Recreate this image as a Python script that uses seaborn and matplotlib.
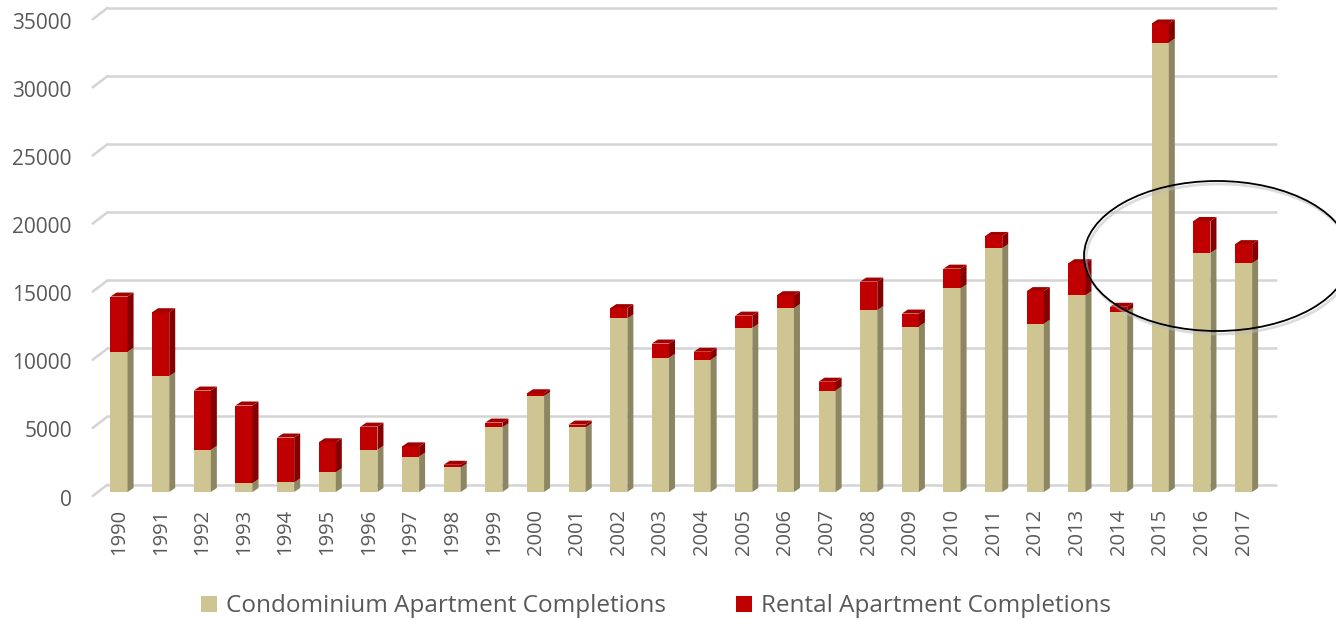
import matplotlib
matplotlib.use("Agg")
import matplotlib.pyplot as plt
import seaborn as sns
import pandas as pd
from matplotlib.patches import Polygon, Ellipse, Patch
from matplotlib.lines import Line2D
from matplotlib.transforms import IdentityTransform, ScaledTranslation

# ---- data ----
years = ["1990", "1991", "1992", "1993", "1994", "1995", "1996", "1997", "1998", "1999",
         "2000", "2001", "2002", "2003", "2004", "2005", "2006", "2007", "2008", "2009",
         "2010", "2011", "2012", "2013", "2014", "2015", "2016", "2017"]
condo = [10300, 8500, 3100, 650, 700, 1450, 3100, 2600, 1800, 4750,
         7050, 4750, 12750, 9850, 9700, 12050, 13500, 7450, 13350, 12150,
         14950, 17900, 12350, 14450, 13250, 33000, 17550, 16800]
rental = [4050, 4700, 4350, 5700, 3300, 2200, 1700, 750, 200, 350,
          200, 200, 750, 1050, 600, 900, 950, 650, 2100, 950,
          1450, 900, 2400, 2350, 350, 1400, 2350, 1400]
y_ticks = [0, 5000, 10000, 15000, 20000, 25000, 30000, 35000]
series_names = ["Condominium Apartment Completions", "Rental Apartment Completions"]

TAN, TAN_SIDE = "#CFC593", "#8C8662"
RED, RED_SIDE, RED_TOP = "#C00000", "#850000", "#A30000"
GRID = "#D4D4D4"
TEXT = "#595959"

W, H, DPI = 1336, 620, 100

sns.set_theme(style="white")
plt.rcParams["font.family"] = ["Open Sans", "DejaVu Sans"]

fig = plt.figure(figsize=(W / DPI, H / DPI), dpi=DPI)
fig.patch.set_facecolor("white")
ax = fig.add_axes([98.2 / W, (H - 492) / H, 1166.2 / W, (492 - 15.3) / H])
ax.set_facecolor("none")

df = pd.DataFrame({"year": years, "condo": condo, "rental": rental})
sns.barplot(data=df, x="year", y="condo", color=TAN, saturation=1, width=0.41,
            errorbar=None, ax=ax, zorder=3, linewidth=0)
sns.barplot(data=df, x="year", y="rental", bottom=df["condo"], color=RED, saturation=1,
            width=0.41, errorbar=None, ax=ax, zorder=3, linewidth=0)

ax.set_xlim(-0.5, 27.5)
ax.set_ylim(0, 35000)
for s in ax.spines.values():
    s.set_visible(False)
ax.set_xlabel("")
ax.set_ylabel("")
ax.set_yticks(y_ticks)
ax.set_yticklabels([str(v) for v in y_ticks])
ax.tick_params(axis="y", length=0, pad=19, labelsize=15, labelcolor=TEXT)
ax.tick_params(axis="x", length=0, pad=12, labelsize=14.5, labelcolor=TEXT, labelrotation=90)
shift = ScaledTranslation(0, -4 / 72, fig.dpi_scale_trans)
for lab in ax.get_yticklabels():
    lab.set_transform(lab.get_transform() + shift)

ident = IdentityTransform()

# back wall gridlines with the little floor stubs on the left
x_left = ax.transData.transform((-0.5, 0))[0]
for v in y_ticks:
    yd = ax.transData.transform((0, v))[1]
    ax.add_artist(Line2D([x_left + 9.5, 1276], [yd + 7.5, yd + 7.5], transform=ident,
                         color=GRID, lw=1.8, zorder=1, clip_on=False))
    ax.add_artist(Line2D([x_left - 5.5, x_left + 9.5], [yd - 4, yd + 7.5], transform=ident,
                         color=GRID, lw=1.8, zorder=1, clip_on=False))

# fake 3d depth on every bar
dx, dy = 6, 4
n = len(years)
bars = list(ax.patches)
for i, p in enumerate(bars):
    x0, y0 = p.get_x(), p.get_y()
    x1, y1 = x0 + p.get_width(), y0 + p.get_height()
    (X0, Y0), (X1, Y1) = ax.transData.transform([(x0, y0), (x1, y1)])
    side_col = TAN_SIDE if i < n else RED_SIDE
    ax.add_artist(Polygon([(X1, Y0), (X1 + dx, Y0 + dy), (X1 + dx, Y1 + dy), (X1, Y1)],
                          closed=True, transform=ident, facecolor=side_col,
                          edgecolor="none", zorder=3, clip_on=False))
    if i >= n:
        ax.add_artist(Polygon([(X0, Y1), (X1, Y1), (X1 + dx, Y1 + dy), (X0 + dx, Y1 + dy)],
                              closed=True, transform=ident, facecolor=RED_TOP,
                              edgecolor="none", zorder=3, clip_on=False))

# highlight ellipse around recent years
cx, cy = 1217, H - 256
fig.add_artist(Ellipse((cx + 2, cy - 3), 266, 150, transform=ident, fill=False,
                       edgecolor="#BBBBBB", lw=2, alpha=0.5))
fig.add_artist(Ellipse((cx, cy), 266, 150, transform=ident, fill=False,
                       edgecolor="black", lw=1.3))

handles = [Patch(facecolor=TAN, edgecolor="none"), Patch(facecolor=RED, edgecolor="none")]
leg = fig.legend(handles, series_names, loc="center", bbox_to_anchor=(0.491, 0.022),
                 ncol=2, frameon=False, fontsize=17.5, handlelength=0.65, handleheight=0.65,
                 handletextpad=0.37, columnspacing=2.9)
for t in leg.get_texts():
    t.set_color(TEXT)

fig.savefig("out.png", dpi=DPI)
plt.close(fig)
